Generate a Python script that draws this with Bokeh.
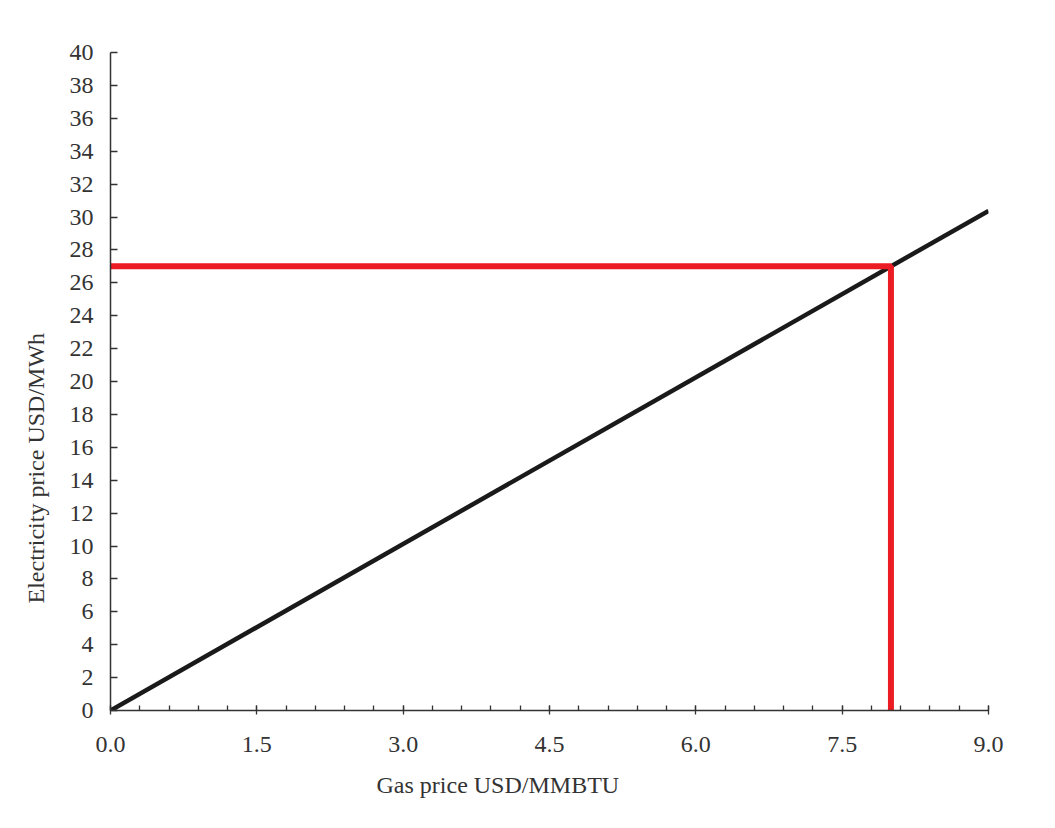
from bokeh.plotting import figure
from bokeh.models import Range1d, FixedTicker, Title
from bokeh.embed import file_html
from bokeh.resources import INLINE

# Data
gas_price = [0.0, 9.0]
electricity_price = [0.0, 30.375]
marker_x = [0.0, 8.0, 8.0]
marker_y = [27.0, 27.0, 0.0]
x_ticks = [0.0, 1.5, 3.0, 4.5, 6.0, 7.5, 9.0]
x_tick_labels = ["0.0", "1.5", "3.0", "4.5", "6.0", "7.5", "9.0"]
x_minor = [round(0.3 * i, 1) for i in range(31)]
y_ticks = list(range(0, 41, 2))
x_title = "Gas price USD/MMBTU"
y_title = "Electricity price USD/MWh"

FONT = "Liberation Serif"
TXT = "#333333"
FS = "24px"

p = figure(width=1039, height=812, output_backend="svg", toolbar_location=None,
           x_range=Range1d(0, 9), y_range=Range1d(0, 40),
           min_border_left=110, min_border_top=52, min_border_right=51, min_border_bottom=102)
p.outline_line_color = None
p.xgrid.visible = False
p.ygrid.visible = False

p.line(gas_price, electricity_price, line_color="#1a1a1a", line_width=4.5)
p.line(marker_x, marker_y, line_color="#ec1c24", line_width=6)

xa = p.xaxis[0]
xa.ticker = FixedTicker(ticks=x_ticks, minor_ticks=x_minor)
xa.major_label_overrides = dict(zip(x_ticks, x_tick_labels))
xa.major_tick_in = 5
xa.major_tick_out = 4
xa.minor_tick_in = 5
xa.minor_tick_out = 0
xa.major_label_standoff = 22
xa.major_label_text_font = FONT
xa.major_label_text_font_size = FS
xa.major_label_text_color = TXT
xa.axis_line_color = "#333333"
xa.axis_line_width = 1.5
xa.major_tick_line_color = "#333333"
xa.minor_tick_line_color = "#333333"
xa.major_tick_line_width = 1.3
xa.minor_tick_line_width = 1.3

ya = p.yaxis[0]
ya.ticker = FixedTicker(ticks=y_ticks, minor_ticks=[])
ya.major_tick_in = 7
ya.major_tick_out = 0
ya.minor_tick_in = 0
ya.minor_tick_out = 0
ya.major_label_standoff = 17
ya.major_label_text_font = FONT
ya.major_label_text_font_size = FS
ya.major_label_text_color = TXT
ya.axis_line_color = "#333333"
ya.axis_line_width = 1.5
ya.major_tick_line_color = "#333333"
ya.major_tick_line_width = 1.3

ty = Title(text=y_title, align="left", offset=107,
           text_font=FONT, text_font_size=FS, text_font_style="normal",
           text_color=TXT, standoff=36)
p.add_layout(ty, "left")

tx = Title(text=x_title, align="left", offset=266,
           text_font=FONT, text_font_size=FS, text_font_style="normal",
           text_color=TXT, standoff=30)
p.add_layout(tx, "below")

open("out.html", "w").write(file_html(p, INLINE))
